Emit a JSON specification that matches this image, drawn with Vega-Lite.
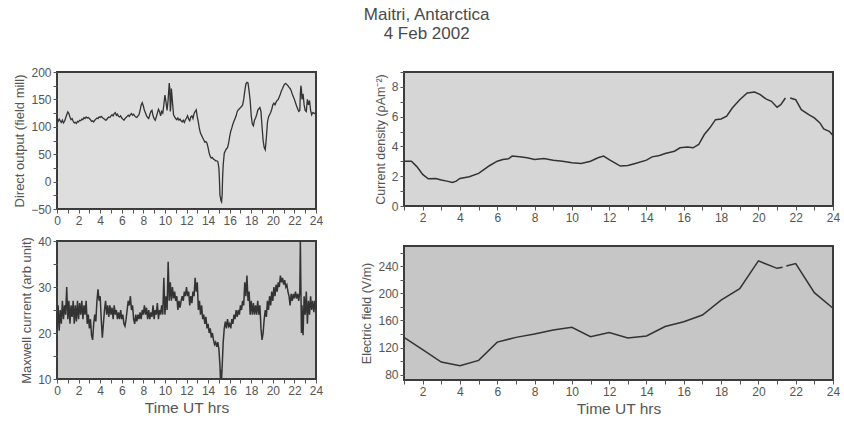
{
  "$schema": "https://vega.github.io/schema/vega-lite/v6.json",
  "padding": {"left": 12, "top": 6, "right": 8, "bottom": 5},
  "background": "white",
  "title": {"text": ["Maitri, Antarctica", "4 Feb 2002"], "anchor": "middle", "fontSize": 17, "fontWeight": "normal", "font": "Liberation Sans", "color": "#4a4a4a", "offset": 22, "lineHeight": 19},
  "config": {
    "axis": {"domain": false, "grid": false, "tickColor": "#555", "tickSize": 4, "labelColor": "#555", "labelFont": "Liberation Sans", "labelFontSize": 12, "labelOverlap": false, "labelFlush": false, "titleFont": "Liberation Sans", "titleFontWeight": "normal", "titleColor": "#555", "titleFontSize": 13},
    "line": {"color": "#333", "strokeWidth": 1.3}
  },
  "datasets": {
    "fm": [
      {"t":0.0,"v":113},{"t":0.1,"v":110},{"t":0.2,"v":114},{"t":0.3,"v":111},{"t":0.4,"v":108},{"t":0.5,"v":112},{"t":0.6,"v":107},{"t":0.7,"v":110},{"t":0.8,"v":116},{"t":0.9,"v":122},
      {"t":1.0,"v":127},{"t":1.1,"v":124},{"t":1.2,"v":118},{"t":1.3,"v":113},{"t":1.4,"v":115},{"t":1.5,"v":110},{"t":1.6,"v":107},{"t":1.7,"v":108},{"t":1.8,"v":106},{"t":1.9,"v":110},
      {"t":2.0,"v":109},{"t":2.1,"v":112},{"t":2.2,"v":111},{"t":2.3,"v":114},{"t":2.4,"v":113},{"t":2.5,"v":117},{"t":2.6,"v":115},{"t":2.7,"v":118},{"t":2.8,"v":116},{"t":2.9,"v":117},
      {"t":3.0,"v":115},{"t":3.1,"v":113},{"t":3.2,"v":110},{"t":3.3,"v":111},{"t":3.4,"v":109},{"t":3.5,"v":112},{"t":3.6,"v":114},{"t":3.7,"v":116},{"t":3.8,"v":115},{"t":3.9,"v":118},
      {"t":4.0,"v":117},{"t":4.1,"v":119},{"t":4.2,"v":117},{"t":4.3,"v":115},{"t":4.4,"v":114},{"t":4.5,"v":112},{"t":4.6,"v":113},{"t":4.7,"v":116},{"t":4.8,"v":118},{"t":4.9,"v":117},
      {"t":5.0,"v":120},{"t":5.1,"v":122},{"t":5.2,"v":120},{"t":5.3,"v":124},{"t":5.4,"v":126},{"t":5.5,"v":121},{"t":5.6,"v":123},{"t":5.7,"v":119},{"t":5.8,"v":118},{"t":5.9,"v":120},
      {"t":6.0,"v":116},{"t":6.1,"v":114},{"t":6.2,"v":112},{"t":6.3,"v":115},{"t":6.4,"v":117},{"t":6.5,"v":119},{"t":6.6,"v":121},{"t":6.7,"v":119},{"t":6.8,"v":122},{"t":6.9,"v":124},
      {"t":7.0,"v":121},{"t":7.1,"v":123},{"t":7.2,"v":120},{"t":7.3,"v":118},{"t":7.4,"v":117},{"t":7.5,"v":120},{"t":7.6,"v":122},{"t":7.7,"v":130},{"t":7.8,"v":140},{"t":7.9,"v":144},
      {"t":8.0,"v":138},{"t":8.1,"v":130},{"t":8.2,"v":125},{"t":8.3,"v":120},{"t":8.4,"v":117},{"t":8.5,"v":115},{"t":8.6,"v":122},{"t":8.7,"v":128},{"t":8.8,"v":130},{"t":8.9,"v":120},
      {"t":9.0,"v":115},{"t":9.1,"v":112},{"t":9.2,"v":118},{"t":9.3,"v":125},{"t":9.4,"v":132},{"t":9.5,"v":128},{"t":9.6,"v":120},{"t":9.7,"v":128},{"t":9.8,"v":125},{"t":9.9,"v":140},
      {"t":10.0,"v":158},{"t":10.1,"v":145},{"t":10.2,"v":130},{"t":10.3,"v":150},{"t":10.4,"v":180},{"t":10.45,"v":170},{"t":10.5,"v":128},{"t":10.55,"v":140},{"t":10.6,"v":170},{"t":10.7,"v":145},
      {"t":10.8,"v":122},{"t":10.9,"v":118},{"t":11.0,"v":115},{"t":11.1,"v":113},{"t":11.2,"v":116},{"t":11.3,"v":112},{"t":11.4,"v":114},{"t":11.5,"v":111},{"t":11.6,"v":109},{"t":11.7,"v":112},
      {"t":11.8,"v":108},{"t":11.9,"v":113},{"t":12.0,"v":116},{"t":12.1,"v":120},{"t":12.2,"v":114},{"t":12.3,"v":111},{"t":12.4,"v":118},{"t":12.5,"v":120},{"t":12.6,"v":115},{"t":12.7,"v":124},
      {"t":12.8,"v":128},{"t":12.9,"v":131},{"t":13.0,"v":118},{"t":13.1,"v":108},{"t":13.2,"v":96},{"t":13.3,"v":88},{"t":13.4,"v":84},{"t":13.5,"v":80},{"t":13.6,"v":76},{"t":13.7,"v":72},
      {"t":13.8,"v":73},{"t":13.9,"v":70},{"t":14.0,"v":62},{"t":14.1,"v":52},{"t":14.2,"v":46},{"t":14.3,"v":43},{"t":14.4,"v":44},{"t":14.5,"v":41},{"t":14.6,"v":40},{"t":14.7,"v":38},
      {"t":14.8,"v":38},{"t":14.9,"v":37},{"t":15.0,"v":25},{"t":15.05,"v":5},{"t":15.1,"v":-25},{"t":15.2,"v":-35},{"t":15.25,"v":-37},{"t":15.3,"v":-25},{"t":15.35,"v":10},{"t":15.4,"v":30},
      {"t":15.5,"v":52},{"t":15.6,"v":56},{"t":15.7,"v":60},{"t":15.8,"v":62},{"t":15.9,"v":70},{"t":16.0,"v":82},{"t":16.1,"v":92},{"t":16.2,"v":98},{"t":16.3,"v":105},{"t":16.4,"v":110},
      {"t":16.5,"v":115},{"t":16.6,"v":120},{"t":16.7,"v":128},{"t":16.8,"v":131},{"t":16.9,"v":133},{"t":17.0,"v":135},{"t":17.1,"v":137},{"t":17.2,"v":140},{"t":17.3,"v":150},{"t":17.4,"v":165},
      {"t":17.5,"v":178},{"t":17.6,"v":181},{"t":17.7,"v":180},{"t":17.8,"v":165},{"t":17.9,"v":148},{"t":18.0,"v":120},{"t":18.1,"v":105},{"t":18.2,"v":102},{"t":18.3,"v":112},{"t":18.4,"v":116},
      {"t":18.5,"v":122},{"t":18.6,"v":130},{"t":18.7,"v":133},{"t":18.8,"v":135},{"t":18.9,"v":128},{"t":19.0,"v":100},{"t":19.1,"v":75},{"t":19.2,"v":62},{"t":19.3,"v":58},{"t":19.4,"v":80},
      {"t":19.5,"v":108},{"t":19.6,"v":118},{"t":19.7,"v":122},{"t":19.8,"v":126},{"t":19.9,"v":132},{"t":20.0,"v":140},{"t":20.1,"v":143},{"t":20.2,"v":140},{"t":20.3,"v":145},{"t":20.4,"v":148},
      {"t":20.5,"v":150},{"t":20.6,"v":155},{"t":20.7,"v":160},{"t":20.8,"v":166},{"t":20.9,"v":170},{"t":21.0,"v":175},{"t":21.1,"v":178},{"t":21.2,"v":179},{"t":21.3,"v":177},{"t":21.4,"v":175},
      {"t":21.5,"v":172},{"t":21.6,"v":170},{"t":21.7,"v":166},{"t":21.8,"v":160},{"t":21.9,"v":155},{"t":22.0,"v":150},{"t":22.1,"v":144},{"t":22.2,"v":138},{"t":22.3,"v":133},{"t":22.4,"v":128},
      {"t":22.5,"v":130},{"t":22.55,"v":160},{"t":22.6,"v":175},{"t":22.65,"v":168},{"t":22.7,"v":150},{"t":22.8,"v":160},{"t":22.9,"v":140},{"t":23.0,"v":130},{"t":23.1,"v":128},{"t":23.2,"v":150},
      {"t":23.3,"v":140},{"t":23.4,"v":148},{"t":23.5,"v":130},{"t":23.6,"v":122},{"t":23.7,"v":126},{"t":23.8,"v":125},{"t":23.9,"v":124},{"t":24.0,"v":127}
    ],
    "mx": [
      {"t":0.0,"v":21},{"t":0.1,"v":26},{"t":0.2,"v":20.5},{"t":0.3,"v":25},{"t":0.4,"v":22},{"t":0.5,"v":27},{"t":0.6,"v":23},{"t":0.7,"v":26},{"t":0.8,"v":24},{"t":0.9,"v":30},
      {"t":1.0,"v":23},{"t":1.1,"v":27},{"t":1.2,"v":22},{"t":1.3,"v":26},{"t":1.4,"v":23.5},{"t":1.5,"v":27},{"t":1.6,"v":22},{"t":1.7,"v":26},{"t":1.8,"v":22.5},{"t":1.9,"v":27},
      {"t":2.0,"v":23},{"t":2.1,"v":26.5},{"t":2.2,"v":24},{"t":2.3,"v":27},{"t":2.4,"v":23},{"t":2.5,"v":26},{"t":2.6,"v":24},{"t":2.7,"v":27},{"t":2.8,"v":22},{"t":2.9,"v":24},
      {"t":3.0,"v":21},{"t":3.1,"v":23},{"t":3.2,"v":19.5},{"t":3.3,"v":18.5},{"t":3.4,"v":22},{"t":3.5,"v":24},{"t":3.6,"v":22.5},{"t":3.7,"v":27},{"t":3.8,"v":29.5},{"t":3.9,"v":27},
      {"t":4.0,"v":28},{"t":4.1,"v":23},{"t":4.2,"v":19},{"t":4.3,"v":22},{"t":4.4,"v":25},{"t":4.5,"v":27},{"t":4.6,"v":24},{"t":4.7,"v":26},{"t":4.8,"v":23.5},{"t":4.9,"v":26},
      {"t":5.0,"v":24},{"t":5.1,"v":25.5},{"t":5.2,"v":23},{"t":5.3,"v":26},{"t":5.4,"v":24},{"t":5.5,"v":25},{"t":5.6,"v":23},{"t":5.7,"v":24.5},{"t":5.8,"v":23},{"t":5.9,"v":25},
      {"t":6.0,"v":23},{"t":6.1,"v":24},{"t":6.2,"v":22},{"t":6.3,"v":21.5},{"t":6.4,"v":23},{"t":6.5,"v":25},{"t":6.6,"v":27},{"t":6.7,"v":26},{"t":6.8,"v":28},{"t":6.9,"v":25},
      {"t":7.0,"v":26},{"t":7.1,"v":23},{"t":7.2,"v":22},{"t":7.3,"v":24},{"t":7.4,"v":22.5},{"t":7.5,"v":24},{"t":7.6,"v":23},{"t":7.7,"v":24.5},{"t":7.8,"v":23},{"t":7.9,"v":25},
      {"t":8.0,"v":24},{"t":8.1,"v":26},{"t":8.2,"v":24},{"t":8.3,"v":25.5},{"t":8.4,"v":23},{"t":8.5,"v":25},{"t":8.6,"v":23},{"t":8.7,"v":24.5},{"t":8.8,"v":23.5},{"t":8.9,"v":26},
      {"t":9.0,"v":23},{"t":9.1,"v":25},{"t":9.2,"v":24},{"t":9.3,"v":26.5},{"t":9.4,"v":23},{"t":9.5,"v":25},{"t":9.6,"v":24},{"t":9.7,"v":26},{"t":9.8,"v":24},{"t":9.9,"v":32},
      {"t":10.0,"v":24},{"t":10.1,"v":28},{"t":10.2,"v":25},{"t":10.3,"v":35.5},{"t":10.4,"v":27},{"t":10.5,"v":31},{"t":10.6,"v":27},{"t":10.7,"v":30},{"t":10.8,"v":27.5},{"t":10.9,"v":29},
      {"t":11.0,"v":27},{"t":11.1,"v":28},{"t":11.2,"v":25},{"t":11.3,"v":27},{"t":11.4,"v":25.5},{"t":11.5,"v":27},{"t":11.6,"v":28},{"t":11.7,"v":27},{"t":11.8,"v":29},{"t":11.9,"v":28},
      {"t":12.0,"v":30},{"t":12.1,"v":28},{"t":12.2,"v":29},{"t":12.3,"v":26},{"t":12.4,"v":28},{"t":12.5,"v":26.5},{"t":12.6,"v":29},{"t":12.7,"v":28},{"t":12.8,"v":32},{"t":12.9,"v":29},
      {"t":13.0,"v":31},{"t":13.1,"v":25},{"t":13.2,"v":27},{"t":13.3,"v":24},{"t":13.4,"v":26},{"t":13.5,"v":23},{"t":13.6,"v":24},{"t":13.7,"v":22},{"t":13.8,"v":23.5},{"t":13.9,"v":21},
      {"t":14.0,"v":22},{"t":14.1,"v":20},{"t":14.2,"v":21},{"t":14.3,"v":19},{"t":14.4,"v":20},{"t":14.5,"v":18.5},{"t":14.6,"v":17.5},{"t":14.7,"v":18},{"t":14.8,"v":17},{"t":14.9,"v":18},
      {"t":15.0,"v":16.5},{"t":15.1,"v":13},{"t":15.15,"v":10},{"t":15.2,"v":12},{"t":15.25,"v":10},{"t":15.3,"v":12.5},{"t":15.4,"v":18},{"t":15.5,"v":21},{"t":15.6,"v":22.5},{"t":15.7,"v":21},
      {"t":15.8,"v":23},{"t":15.9,"v":21.5},{"t":16.0,"v":22},{"t":16.1,"v":21},{"t":16.2,"v":23},{"t":16.3,"v":22},{"t":16.4,"v":24},{"t":16.5,"v":23},{"t":16.6,"v":25},{"t":16.7,"v":23.5},
      {"t":16.8,"v":25},{"t":16.9,"v":24},{"t":17.0,"v":26},{"t":17.1,"v":25},{"t":17.2,"v":27},{"t":17.3,"v":26},{"t":17.4,"v":31},{"t":17.5,"v":28},{"t":17.6,"v":32.5},{"t":17.7,"v":27},
      {"t":17.8,"v":29},{"t":17.9,"v":24},{"t":18.0,"v":27},{"t":18.1,"v":24},{"t":18.2,"v":26.5},{"t":18.3,"v":24},{"t":18.4,"v":26},{"t":18.5,"v":24},{"t":18.6,"v":27},{"t":18.7,"v":24},
      {"t":18.8,"v":26},{"t":18.9,"v":21},{"t":19.0,"v":18.5},{"t":19.1,"v":20},{"t":19.2,"v":23},{"t":19.3,"v":25},{"t":19.4,"v":23.5},{"t":19.5,"v":27},{"t":19.6,"v":25},{"t":19.7,"v":28},
      {"t":19.8,"v":26},{"t":19.9,"v":29},{"t":20.0,"v":27},{"t":20.1,"v":30},{"t":20.2,"v":28},{"t":20.3,"v":30.5},{"t":20.4,"v":29},{"t":20.5,"v":31},{"t":20.6,"v":30},{"t":20.7,"v":32.5},
      {"t":20.8,"v":31},{"t":20.9,"v":32},{"t":21.0,"v":30.5},{"t":21.1,"v":31.5},{"t":21.2,"v":30},{"t":21.3,"v":30.5},{"t":21.4,"v":29},{"t":21.5,"v":28},{"t":21.6,"v":26},{"t":21.7,"v":28.5},
      {"t":21.8,"v":27},{"t":21.9,"v":28.5},{"t":22.0,"v":27.5},{"t":22.1,"v":29},{"t":22.2,"v":27.5},{"t":22.3,"v":28.5},{"t":22.4,"v":27},{"t":22.5,"v":29},{"t":22.55,"v":40},{"t":22.6,"v":30},
      {"t":22.65,"v":20},{"t":22.7,"v":26},{"t":22.8,"v":19.5},{"t":22.9,"v":28},{"t":23.0,"v":24},{"t":23.1,"v":29},{"t":23.2,"v":22},{"t":23.3,"v":27},{"t":23.4,"v":24},{"t":23.5,"v":28},
      {"t":23.6,"v":25},{"t":23.7,"v":27},{"t":23.8,"v":24.5},{"t":23.9,"v":27},{"t":24.0,"v":25}
    ],
    "cd": [
      {"t":1.0,"v":3.0},{"t":1.4,"v":3.0},{"t":1.7,"v":2.63},{"t":2.0,"v":2.12},{"t":2.3,"v":1.83},{"t":2.7,"v":1.85},{"t":3.0,"v":1.74},{"t":3.3,"v":1.67},{"t":3.6,"v":1.58},{"t":3.8,"v":1.67},
      {"t":4.0,"v":1.85},{"t":4.5,"v":1.96},{"t":5.0,"v":2.19},{"t":5.3,"v":2.46},{"t":5.6,"v":2.72},{"t":6.0,"v":3.01},{"t":6.3,"v":3.12},{"t":6.6,"v":3.17},{"t":6.8,"v":3.35},{"t":7.2,"v":3.30},
      {"t":7.6,"v":3.24},{"t":8.0,"v":3.12},{"t":8.5,"v":3.19},{"t":9.0,"v":3.08},{"t":9.5,"v":3.01},{"t":10.0,"v":2.90},{"t":10.5,"v":2.86},{"t":11.0,"v":3.01},{"t":11.4,"v":3.24},{"t":11.7,"v":3.35},
      {"t":12.0,"v":3.12},{"t":12.3,"v":2.90},{"t":12.6,"v":2.68},{"t":13.0,"v":2.72},{"t":13.4,"v":2.86},{"t":14.0,"v":3.08},{"t":14.3,"v":3.30},{"t":14.7,"v":3.39},{"t":15.0,"v":3.53},{"t":15.5,"v":3.68},
      {"t":15.8,"v":3.91},{"t":16.2,"v":3.97},{"t":16.5,"v":3.91},{"t":16.8,"v":4.13},{"t":17.1,"v":4.80},{"t":17.4,"v":5.25},{"t":17.7,"v":5.80},{"t":18.0,"v":5.85},{"t":18.3,"v":6.03},{"t":18.6,"v":6.58},
      {"t":19.0,"v":7.14},{"t":19.4,"v":7.59},{"t":19.8,"v":7.66},{"t":20.1,"v":7.48},{"t":20.4,"v":7.19},{"t":20.7,"v":7.03},{"t":21.0,"v":6.63},{"t":21.2,"v":6.81},{"t":21.45,"v":7.25},{"t":21.55,"v":null},
      {"t":21.7,"v":7.25},{"t":22.0,"v":7.14},{"t":22.3,"v":6.47},{"t":22.7,"v":6.14},{"t":23.0,"v":5.92},{"t":23.3,"v":5.58},{"t":23.5,"v":5.18},{"t":23.8,"v":5.02},{"t":24.0,"v":4.73}
    ],
    "ef": [
      {"t":1,"v":135},{"t":2,"v":117},{"t":3,"v":98.5},{"t":4,"v":93},{"t":5,"v":101},{"t":6,"v":128},{"t":7,"v":135},{"t":8,"v":140},{"t":9,"v":146},{"t":10,"v":150},
      {"t":11,"v":136},{"t":12,"v":142},{"t":13,"v":134},{"t":14,"v":137},{"t":15,"v":151},{"t":16,"v":158},{"t":17,"v":168},{"t":18,"v":190},{"t":19,"v":207},{"t":20,"v":248},
      {"t":21,"v":237},{"t":21.3,"v":238.5},{"t":21.4,"v":null},{"t":21.5,"v":240.5},{"t":22,"v":244},{"t":23,"v":201},{"t":24,"v":178}
    ]
  },
  "spacing": 35,
  "hconcat": [
    {
      "spacing": 7,
      "vconcat": [
        {
          "width": 259, "height": 137,
          "view": {"fill": "#dedede", "stroke": "#3c3c3c", "strokeWidth": 2},
          "data": {"name": "fm"},
          "mark": {"type": "line", "invalid": "break-paths-show-domains"},
          "encoding": {
            "x": {"field": "t", "type": "quantitative", "scale": {"domain": [0, 24], "nice": false, "zero": false},
                  "axis": {"title": null, "values": [0,1,2,3,4,5,6,7,8,9,10,11,12,13,14,15,16,17,18,19,20,21,22,23,24], "labelExpr": "datum.value % 2 == 0 ? datum.label : ''"}},
            "y": {"field": "v", "type": "quantitative", "scale": {"domain": [-50, 200], "nice": false, "zero": false},
                  "axis": {"title": "Direct output (field mill)", "values": [-50,-25,0,25,50,75,100,125,150,175,200], "labelExpr": "datum.value % 50 == 0 ? datum.label : ''"}}
          }
        },
        {
          "width": 259, "height": 138,
          "view": {"fill": "#cbcbcb", "stroke": "#3c3c3c", "strokeWidth": 2},
          "data": {"name": "mx"},
          "mark": {"type": "line", "invalid": "break-paths-show-domains", "strokeWidth": 1.5},
          "encoding": {
            "x": {"field": "t", "type": "quantitative", "scale": {"domain": [0, 24], "nice": false, "zero": false},
                  "axis": {"title": "Time UT hrs", "titleFontSize": 15.5, "values": [0,1,2,3,4,5,6,7,8,9,10,11,12,13,14,15,16,17,18,19,20,21,22,23,24], "labelExpr": "datum.value % 2 == 0 ? datum.label : ''"}},
            "y": {"field": "v", "type": "quantitative", "scale": {"domain": [10, 40], "nice": false, "zero": false},
                  "axis": {"title": "Maxwell current (arb unit)", "values": [10,15,20,25,30,35,40], "labelExpr": "datum.value % 10 == 0 ? datum.label : ''"}}
          }
        }
      ]
    },
    {
      "spacing": 21,
      "vconcat": [
        {
          "width": 429, "height": 134,
          "view": {"fill": "#d6d6d6", "stroke": "#3c3c3c", "strokeWidth": 2},
          "data": {"name": "cd"},
          "mark": {"type": "line", "invalid": "break-paths-show-domains", "strokeWidth": 1.5},
          "encoding": {
            "x": {"field": "t", "type": "quantitative", "scale": {"domain": [1, 24], "nice": false, "zero": false},
                  "axis": {"title": null, "values": [1,2,3,4,5,6,7,8,9,10,11,12,13,14,15,16,17,18,19,20,21,22,23,24], "labelExpr": "datum.value % 2 == 0 ? datum.label : ''"}},
            "y": {"field": "v", "type": "quantitative", "scale": {"domain": [0, 9], "nice": false, "zero": false},
                  "axis": {"title": "Current density (ρAm⁻²)", "titleFontSize": 12.5, "values": [0,1,2,3,4,5,6,7,8,9], "labelExpr": "datum.value % 2 == 0 ? datum.label : ''"}}
          }
        },
        {
          "width": 429, "height": 134,
          "view": {"fill": "#c6c6c6", "stroke": "#3c3c3c", "strokeWidth": 2},
          "data": {"name": "ef"},
          "mark": {"type": "line", "invalid": "break-paths-show-domains", "strokeWidth": 1.5},
          "encoding": {
            "x": {"field": "t", "type": "quantitative", "scale": {"domain": [1, 24], "nice": false, "zero": false},
                  "axis": {"title": "Time UT hrs", "titleFontSize": 15.5, "values": [1,2,3,4,5,6,7,8,9,10,11,12,13,14,15,16,17,18,19,20,21,22,23,24], "labelExpr": "datum.value % 2 == 0 ? datum.label : ''"}},
            "y": {"field": "v", "type": "quantitative", "scale": {"domain": [72, 270], "nice": false, "zero": false},
                  "axis": {"title": "Electric field (V/m)", "titleFontSize": 12.5, "values": [80,100,120,140,160,180,200,220,240,260], "labelExpr": "datum.value % 40 == 0 ? datum.label : ''"}}
          }
        }
      ]
    }
  ]
}
